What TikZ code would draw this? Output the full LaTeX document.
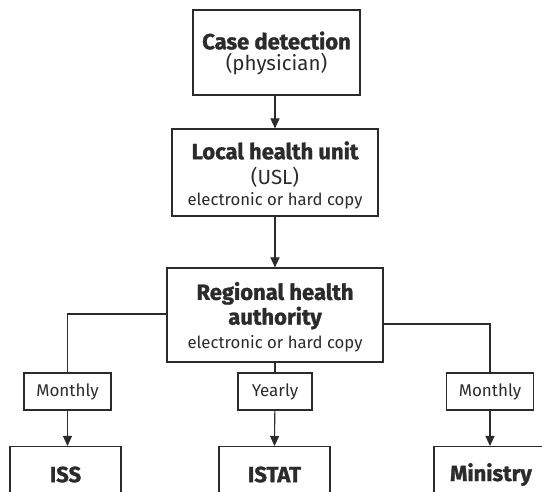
\documentclass[tikz,border=0pt]{standalone}
\usepackage{fontspec}
\setmainfont{Fira Sans}[BoldFeatures={FakeBold=1.3}]
\usetikzlibrary{arrows.meta}
\definecolor{ink}{HTML}{2B2B2B}
\tikzset{
  box/.style={draw=ink, line width=1.1pt, text=ink, align=center, inner sep=0pt},
  tag/.style={box, minimum width=87pt, minimum height=37pt, font=\fontsize{17}{20}\selectfont},
  sink/.style={box, anchor=north, minimum height=56pt, font=\fontsize{22}{24}\selectfont\bfseries},
  link/.style={draw=ink, line width=1.1pt},
  arr/.style={link, -{Triangle[length=10pt,width=9pt]}},
}
\newcommand{\ttl}[1]{{\fontsize{22}{22}\selectfont\bfseries #1}}
\newcommand{\sub}[1]{{\fontsize{20.5}{22}\selectfont #1}}
\newcommand{\sml}[1]{{\fontsize{16.7}{22}\selectfont #1}}
\begin{document}
\begin{tikzpicture}[x=1pt,y=1pt]
\useasboundingbox (0,0) rectangle (542,492);
\clip (0,0) rectangle (542,492);
\node[box, minimum width=167pt, minimum height=85pt, font=\fontsize{21}{21}\selectfont] (case) at (276.5,439.5)
  {\ttl{\rule{0pt}{19pt}Case detection}\\\sub{(physician)}};
\node[box, minimum width=206pt, minimum height=87pt, font=\fontsize{20}{20}\selectfont] (local) at (275,319.5)
  {\ttl{\rule{0pt}{23pt}Local health unit}\\[5pt]\sub{(USL)}\\[1pt]\sml{electronic or hard copy}};
\node[box, minimum width=216pt, minimum height=94pt, font=\fontsize{22}{22}\selectfont] (reg) at (275,177)
  {\ttl{\rule{0pt}{22pt}Regional health}\\[1pt]\ttl{authority}\\[2pt]\sml{electronic or hard copy}};
\node[tag] (m1) at (67.5,100.5) {Monthly};
\node[tag, minimum width=74pt] (yr) at (275,100.5) {Yearly};
\node[tag] (m2) at (490,100.5) {Monthly};
\node[sink, minimum width=111pt] (iss) at (65.5,46) {ISS};
\node[sink, minimum width=111pt] (istat) at (274.5,46) {ISTAT};
\node[sink, minimum width=114pt] (min) at (491,46) {Ministry};
\draw[arr] (case.south -| local.north) -- (local.north);
\draw[arr] (local) -- (reg);
\draw[link] ([yshift=1pt]reg.west) -| (m1.north);
\draw[link] ([yshift=-9pt]reg.east) -| (m2.north);
\draw[link] (reg.south) -- (yr.north);
\draw[arr] (m1) -- (m1 |- iss.north);
\draw[arr] (yr) -- (istat.north);
\draw[arr] (m2) -- (m2 |- min.north);
\end{tikzpicture}
\end{document}
